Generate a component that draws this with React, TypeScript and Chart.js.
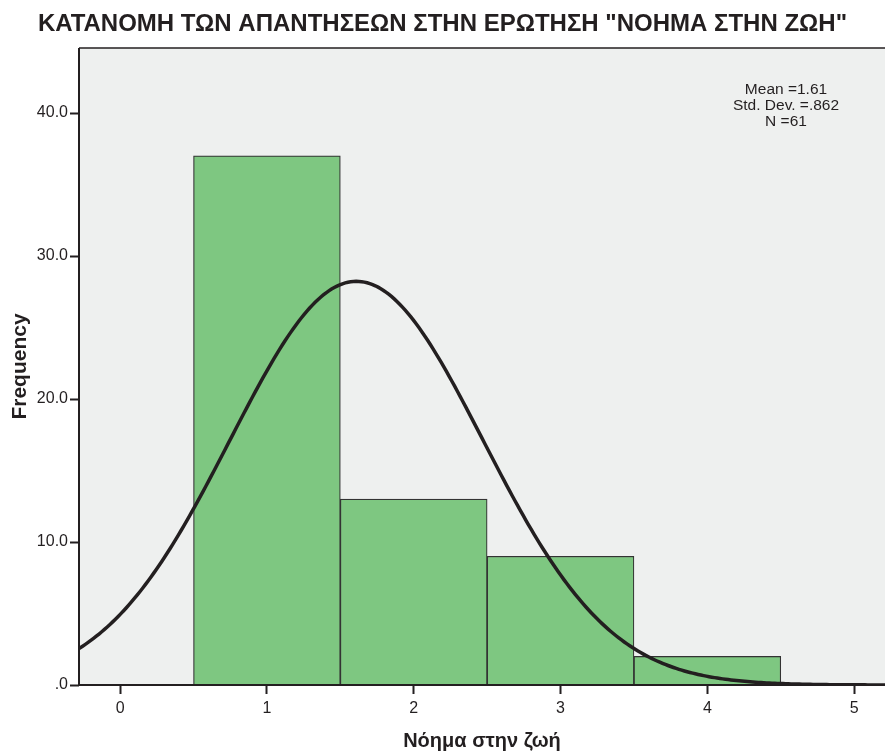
import React, { useEffect, useRef } from "react";
import { Chart, registerables } from "chart.js";

Chart.register(...registerables);

// Histogram of answers (bin centres 1..4) with fitted normal curve
const binCenters = [1, 2, 3, 4];
const frequencies = [37, 13, 9, 2];
const MEAN = 1.61;
const SD = 0.862;
const N = 61;
const xTicks = [0, 1, 2, 3, 4, 5];
const yTicks = [0, 10, 20, 30, 40];
const statLines = ["Mean =1.61", "Std. Dev. =.862", "N =61"];

const TITLE = 'ΚΑΤΑΝΟΜΗ ΤΩΝ ΑΠΑΝΤΗΣΕΩΝ ΣΤΗΝ ΕΡΩΤΗΣΗ "ΝΟΗΜΑ ΣΤΗΝ ΖΩΗ"';
const X_TITLE = "Νόημα στην ζωή";
const Y_TITLE = "Frequency";

const X_MIN = -0.28;
const X_MAX = 5.21;
const Y_MAX = 44.55;

const FONT = "'Liberation Sans', Arial, sans-serif";
const INK = "#231f20";

// Normal density scaled to counts (bin width 1)
function normalCount(x: number): number {
  const z = (x - MEAN) / SD;
  return (N / (SD * Math.sqrt(2 * Math.PI))) * Math.exp(-0.5 * z * z);
}

const curveX: number[] = [];
for (let i = 0; i <= 300; i++) curveX.push(X_MIN - 0.05 + (i * (X_MAX - X_MIN + 0.1)) / 300);

const plotFrame = {
  id: "plotFrame",
  beforeDatasetsDraw(chart: any) {
    const { ctx, chartArea: a } = chart;
    ctx.save();
    ctx.fillStyle = "#eef0ef";
    ctx.fillRect(a.left, a.top, a.right - a.left, a.bottom - a.top);
    ctx.restore();
  },
  afterDatasetsDraw(chart: any) {
    const { ctx, chartArea: a } = chart;
    ctx.save();
    ctx.strokeStyle = INK;
    ctx.lineWidth = 1.5;
    ctx.beginPath();
    ctx.moveTo(a.left, a.top);
    ctx.lineTo(a.right, a.top);
    ctx.stroke();
    ctx.lineWidth = 2;
    ctx.beginPath();
    ctx.moveTo(a.left, a.top);
    ctx.lineTo(a.left, a.bottom);
    ctx.lineTo(a.right, a.bottom);
    ctx.stroke();
    // summary statistics box
    ctx.fillStyle = INK;
    ctx.font = `15.5px ${FONT}`;
    ctx.textAlign = "center";
    ctx.textBaseline = "middle";
    const cx = a.right - 99;
    statLines.forEach((t, i) => ctx.fillText(t, cx, a.top + 42 + i * 16));
    ctx.restore();
  },
};

export default function App() {
  const ref = useRef<HTMLCanvasElement>(null);

  useEffect(() => {
    if (!ref.current) return;
    const chart = new Chart(ref.current, {
      type: "bar",
      data: {
        datasets: [
          {
            type: "line",
            data: curveX.map((x) => ({ x, y: normalCount(x) })),
            borderColor: INK,
            borderWidth: 3.5,
            pointRadius: 0,
            tension: 0,
            fill: false,
            order: 0,
          } as any,
          {
            type: "bar",
            data: binCenters.map((x, i) => ({ x, y: frequencies[i] })),
            backgroundColor: "#7ec781",
            borderColor: "#333333",
            borderWidth: 1.2,
            barPercentage: 1,
            categoryPercentage: 1,
            order: 1,
          } as any,
        ],
      },
      options: {
        animation: false,
        responsive: false,
        maintainAspectRatio: false,
        layout: { padding: 0 },
        plugins: {
          legend: { display: false },
          tooltip: { enabled: false },
          title: {
            display: true,
            text: TITLE,
            color: INK,
            font: { family: FONT, size: 24, weight: "bold", lineHeight: 1 },
            padding: { top: 12, bottom: 12 },
          },
        },
        scales: {
          x: {
            type: "linear",
            min: X_MIN,
            max: X_MAX,
            offset: false,
            afterBuildTicks: (s: any) => {
              s.ticks = xTicks.map((v) => ({ value: v }));
            },
            afterFit: (s: any) => {
              s.height = 66;
            },
            ticks: {
              color: INK,
              font: { family: FONT, size: 16 },
              padding: 5,
              maxRotation: 0,
              callback: (v: any) => String(v),
            },
            grid: {
              display: true,
              offset: false,
              drawOnChartArea: false,
              drawTicks: true,
              tickLength: 9,
              tickWidth: 2,
              tickColor: INK,
              color: INK,
            },
            border: { display: false },
            title: {
              display: true,
              text: X_TITLE,
              color: INK,
              font: { family: FONT, size: 20, weight: "bold", lineHeight: 1 },
              padding: 0,
            },
          },
          y: {
            type: "linear",
            min: 0,
            max: Y_MAX,
            afterBuildTicks: (s: any) => {
              s.ticks = yTicks.map((v) => ({ value: v }));
            },
            afterFit: (s: any) => {
              s.width = 79;
            },
            ticks: {
              color: INK,
              font: { family: FONT, size: 16 },
              padding: 2,
              callback: (v: any) => (v === 0 ? ".0" : Number(v).toFixed(1)),
            },
            grid: {
              display: true,
              offset: false,
              drawOnChartArea: false,
              drawTicks: true,
              tickLength: 9,
              tickWidth: 2,
              tickColor: INK,
              color: INK,
            },
            border: { display: false },
            title: {
              display: true,
              text: Y_TITLE,
              color: INK,
              font: { family: FONT, size: 21, weight: "bold", lineHeight: 1 },
              padding: { top: 10, bottom: 0 },
            },
          },
        },
      },
      plugins: [plotFrame],
    });
    return () => chart.destroy();
  }, []);

  return (
    <div style={{ position: "fixed", left: 0, top: 0, width: 885, height: 751, background: "#ffffff" }}>
      <canvas ref={ref} width={885} height={751} style={{ display: "block", width: 885, height: 751 }} />
    </div>
  );
}
